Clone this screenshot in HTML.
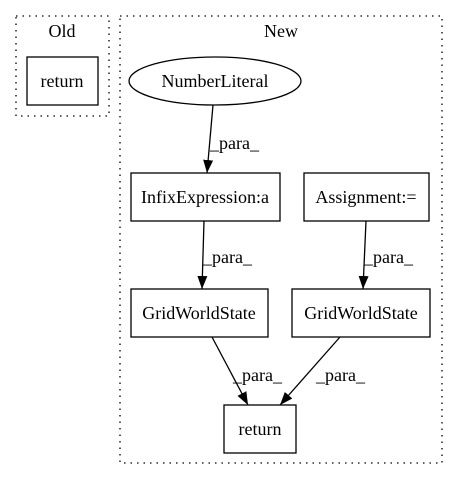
<!DOCTYPE html>
<html><head><style>body{margin:0;background:#fff}</style></head><body>
<svg width="457" height="480" xmlns="http://www.w3.org/2000/svg" font-family="Liberation Serif, serif" font-size="18">
<defs><marker id="a" markerWidth="14" markerHeight="12" refX="13" refY="6" orient="auto" markerUnits="userSpaceOnUse"><path d="M0,1 L13,6 L0,11 z" fill="#000"/></marker></defs>
<rect x="16" y="16" width="93" height="100" fill="none" stroke="#000" stroke-width="1.3" stroke-dasharray="1.5,5"/>
<text x="62" y="37" text-anchor="middle">Old</text>
<rect x="120" y="16" width="322" height="447" fill="none" stroke="#000" stroke-width="1.3" stroke-dasharray="1.5,5"/>
<text x="281" y="37" text-anchor="middle">New</text>
<g fill="none" stroke="#000" stroke-width="1.3">
<rect x="27" y="57" width="71" height="48"/>
<ellipse cx="215" cy="81" rx="86" ry="24"/>
<rect x="131" y="173" width="149" height="48"/>
<rect x="304" y="173" width="125" height="48"/>
<rect x="131" y="289" width="137" height="48"/>
<rect x="292" y="289" width="138" height="48"/>
<rect x="224" y="405" width="72" height="48"/>
<path d="M213,105 L207,173" marker-end="url(#a)"/>
<path d="M204,221 L202,289" marker-end="url(#a)"/>
<path d="M366,221 L363,289" marker-end="url(#a)"/>
<path d="M212,337 L248,405" marker-end="url(#a)"/>
<path d="M340,337 L280,405" marker-end="url(#a)"/>
</g>
<g text-anchor="middle">
<text x="62" y="87">return</text>
<text x="215" y="87">NumberLiteral</text>
<text x="205" y="203">InfixExpression:a</text>
<text x="366" y="203">Assignment:=</text>
<text x="199" y="319">GridWorldState</text>
<text x="361" y="319">GridWorldState</text>
<text x="260" y="435">return</text>
</g>
<text x="210" y="149">_para_</text>
<text x="203" y="263">_para_</text>
<text x="364" y="263">_para_</text>
<text x="233" y="381">_para_</text>
<text x="316" y="381">_para_</text>
</svg>
</body></html>
